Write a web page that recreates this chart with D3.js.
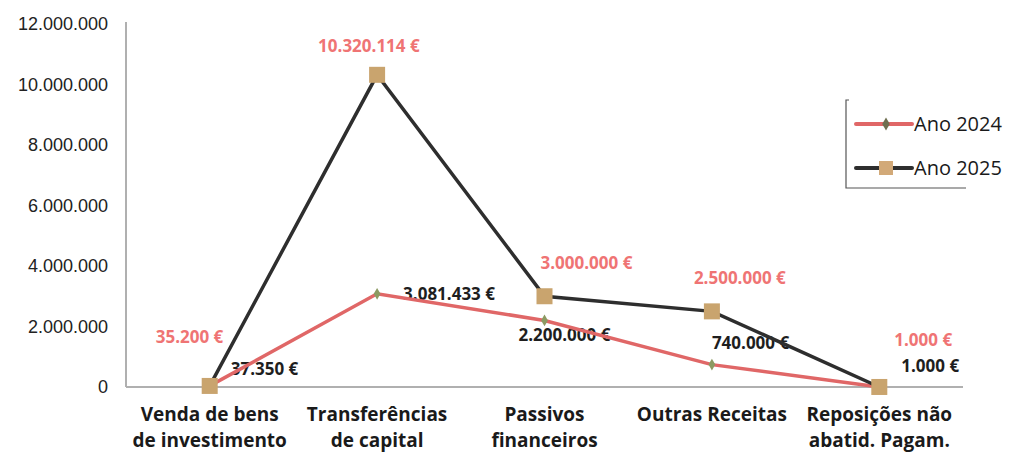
<!DOCTYPE html>
<html>
<head>
<meta charset="utf-8">
<script src="https://cdn.jsdelivr.net/npm/d3@7/dist/d3.min.js"></script>
<style>
  body { margin: 0; background: #fff; }
  svg { display: block; font-family: "Open Sans", sans-serif; }
</style>
</head>
<body>
<div id="chart"></div>
<script>
// categories and values
const categories = [
  ["Venda de bens", "de investimento"],
  ["Transferências", "de capital"],
  ["Passivos", "financeiros"],
  ["Outras Receitas"],
  ["Reposições não", "abatid. Pagam."]
];
const ano2024 = [37350, 3081433, 2200000, 740000, 1000];
const ano2025 = [35200, 10320114, 3000000, 2500000, 1000];
const yTicks = [0, 2000000, 4000000, 6000000, 8000000, 10000000, 12000000];
const seriesNames = ["Ano 2024", "Ano 2025"];

// label nudges (px, left edge / middle) relative to each point
const off2024 = [[21, -17], [26, 0], [-26, 15], [0, -22], [22, -21]];
const off2025 = [[-54, -49], [-59, -29], [-4, -33], [-18, -33], [15, -47]];

const width = 1012, height = 453;
const mLeft = 126, mRight = 963, mTop = 24, mBottom = 387;

const pt = d3.formatLocale({ decimal: ",", thousands: ".", grouping: [3], currency: ["", " €"] });
const fmtNum = pt.format(",d");
const fmtEur = v => fmtNum(v) + " €";

const svg = d3.select("#chart").append("svg")
  .attr("width", width).attr("height", height);

const x = d3.scaleBand().domain(d3.range(categories.length)).range([mLeft, mRight]);
const cx = i => x(i) + x.bandwidth() / 2;
const y = d3.scaleLinear().domain([0, 12000000]).range([mBottom, mTop]);

// y axis
const yAxis = svg.append("g")
  .attr("transform", "translate(" + mLeft + ",0)")
  .call(d3.axisLeft(y).tickValues(yTicks).tickFormat(fmtNum).tickSize(0).tickPadding(18));
yAxis.select(".domain").attr("stroke", "#b0b0b0").attr("stroke-width", 2).attr("d", "M0," + (mTop - 2) + "V" + mBottom);
yAxis.selectAll("text").attr("font-size", 18).attr("fill", "#222");

// x baseline
svg.append("line")
  .attr("x1", mLeft).attr("x2", mRight)
  .attr("y1", y(0)).attr("y2", y(0))
  .attr("stroke", "#b0b0b0").attr("stroke-width", 2);

// category labels
const xl = svg.append("g");
categories.forEach((lines, i) => {
  const t = xl.append("text")
    .attr("x", cx(i)).attr("y", 421)
    .attr("text-anchor", "middle")
    .attr("font-size", 19).attr("font-weight", "bold").attr("fill", "#1a1a1a");
  lines.forEach((ln, j) => {
    t.append("tspan").attr("x", cx(i)).attr("dy", j === 0 ? 0 : 26).text(ln);
  });
});

const line = d3.line().x((d, i) => cx(i)).y(d => y(d));

// labels first, lines on top
const lbl = svg.append("g").attr("font-size", 17).attr("font-weight", "bold");
ano2024.forEach((v, i) => {
  lbl.append("text")
    .attr("x", cx(i) + off2024[i][0]).attr("y", y(v) + off2024[i][1] + 6)
    .attr("fill", "#1e1e1e").text(fmtEur(v));
});
ano2025.forEach((v, i) => {
  lbl.append("text")
    .attr("x", cx(i) + off2025[i][0]).attr("y", y(v) + off2025[i][1] + 6)
    .attr("fill", "#ef7474").text(fmtEur(v));
});

svg.append("path").datum(ano2024)
  .attr("fill", "none").attr("stroke", "#e06767").attr("stroke-width", 3.5)
  .attr("d", line);
svg.append("path").datum(ano2025)
  .attr("fill", "none").attr("stroke", "#2e2e2e").attr("stroke-width", 3.5)
  .attr("d", line);

// markers
svg.append("g").selectAll("path").data(ano2024).join("path")
  .attr("transform", (d, i) => "translate(" + cx(i) + "," + y(d) + ")")
  .attr("d", d3.symbol(d3.symbolDiamond, 40))
  .attr("fill", "#8c9a62");
svg.append("g").selectAll("rect").data(ano2025).join("rect")
  .attr("x", (d, i) => cx(i) - 8).attr("y", d => y(d) - 8)
  .attr("width", 16).attr("height", 16)
  .attr("fill", "#c9a46e");

// legend
const lg = svg.append("g").attr("transform", "translate(846,100)");
lg.append("path").attr("d", "M3,0H0V88H120").attr("fill", "none").attr("stroke", "#555").attr("stroke-width", 1.2);
const legColors = ["#e06767", "#2e2e2e"];
seriesNames.forEach((name, i) => {
  const yy = 24 + i * 44;
  lg.append("line").attr("x1", 10).attr("x2", 66).attr("y1", yy).attr("y2", yy)
    .attr("stroke", legColors[i]).attr("stroke-width", 4).attr("stroke-linecap", "round");
  if (i === 0) {
    lg.append("path").attr("transform", "translate(40," + yy + ")")
      .attr("d", d3.symbol(d3.symbolDiamond, 50)).attr("fill", "#6f6f50");
  } else {
    lg.append("rect").attr("x", 33).attr("y", yy - 7).attr("width", 14).attr("height", 14).attr("fill", "#d2a978");
  }
  lg.append("text").attr("x", 68).attr("y", yy + 7)
    .attr("font-size", 20).attr("fill", "#1a1a1a").text(name);
});
</script>
</body>
</html>
